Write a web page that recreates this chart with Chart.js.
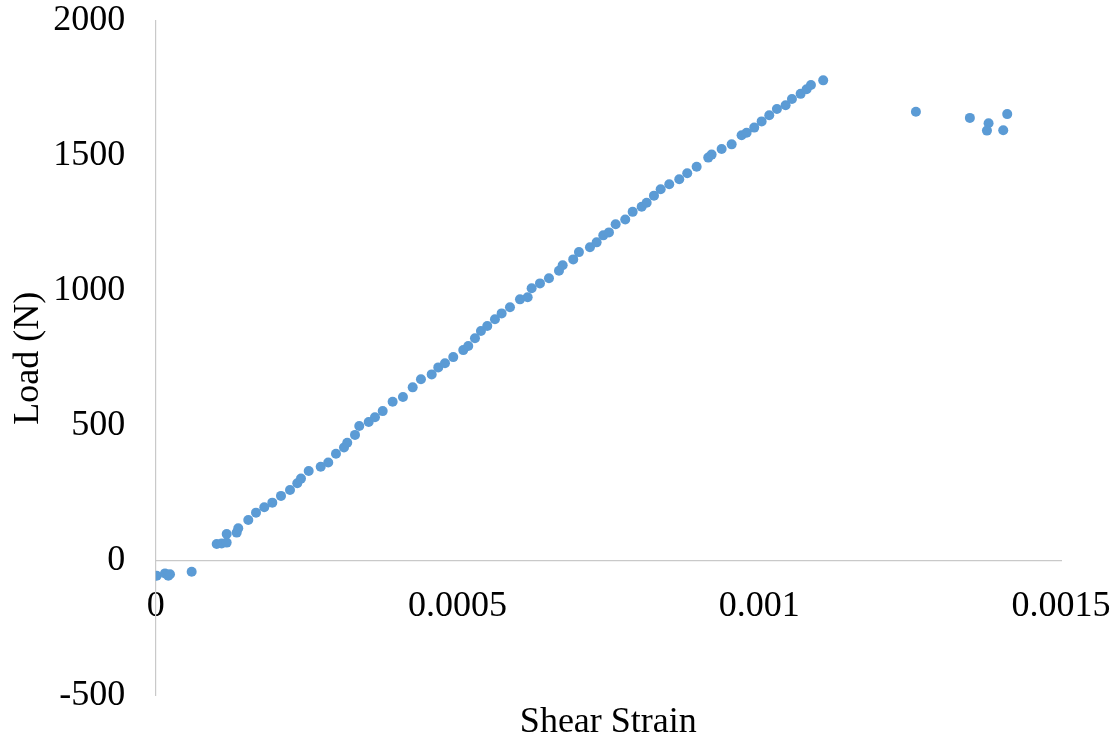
<!DOCTYPE html>
<html>
<head>
<meta charset="utf-8">
<script src="https://cdn.jsdelivr.net/npm/chart.js@4.4.1/dist/chart.umd.min.js"></script>
<style>
  html, body { margin: 0; padding: 0; background: #ffffff; }
  #wrap { width: 1118px; height: 740px; }
</style>
</head>
<body>
<div id="wrap"><canvas id="chart" width="1118" height="740"></canvas></div>
<script>
// Shear test: measured shear strain vs applied load
const strainValues = [
  0.0000017, 0.0000154, 0.0000209, 0.0000237, 0.0000596,
  0.0001011, 0.0001093, 0.0001176, 0.0001176, 0.0001342, 0.0001368, 0.0001534, 0.0001662, 0.0001799, 0.0001932,
  0.0002076, 0.0002225, 0.0002346, 0.0002407, 0.0002535, 0.0002734, 0.0002859, 0.0002987, 0.0003120, 0.0003174,
  0.0003302, 0.0003373, 0.0003529, 0.0003633, 0.0003761, 0.0003926, 0.0004097, 0.0004258, 0.0004395, 0.0004573,
  0.0004682, 0.0004793, 0.0004930, 0.0005096, 0.0005179, 0.0005290, 0.0005389, 0.0005494, 0.0005621, 0.0005732,
  0.0005870, 0.0006036, 0.0006163, 0.0006229, 0.0006367, 0.0006516, 0.0006682, 0.0006743, 0.0006918, 0.0007013,
  0.0007195, 0.0007306, 0.0007416, 0.0007510, 0.0007621, 0.0007780, 0.0007903, 0.0008052, 0.0008135, 0.0008256,
  0.0008367, 0.0008509, 0.0008675, 0.0008807, 0.0008963, 0.0009155, 0.0009211, 0.0009377, 0.0009543, 0.0009708,
  0.0009791, 0.0009917, 0.0010040, 0.0010166, 0.0010293, 0.0010437, 0.0010542, 0.0010686, 0.0010785, 0.0010857,
  0.0011060, 0.0012596, 0.0013490, 0.0013800, 0.0013773, 0.0014043, 0.0014109
];
const loadValues = [
  -56, -47, -56, -50, -41,
  62, 64, 67, 99, 104, 120, 151, 178, 198, 215,
  240, 262, 287, 304, 332, 348, 364, 396, 419, 437,
  466, 499, 514, 531, 554, 589, 606, 642, 672, 690,
  716, 731, 754, 780, 795, 824, 851, 869, 894, 916,
  939, 968, 976, 1009, 1027, 1046, 1074, 1094, 1116, 1143,
  1161, 1179, 1205, 1216, 1246, 1264, 1292, 1311, 1326, 1352,
  1376, 1394, 1413, 1435, 1459, 1493, 1504, 1525, 1542, 1576,
  1585, 1604, 1627, 1650, 1673, 1687, 1710, 1729, 1746, 1762,
  1779, 1663, 1640, 1620, 1593, 1594, 1654
];
const xTickLabels = ['0', '0.0005', '0.001', '0.0015'];
const yTickLabels = ['-500', '0', '500', '1000', '1500', '2000'];
const xTitle = 'Shear Strain';
const yTitle = 'Load (N)';

const points = strainValues.map((s, i) => ({ x: s, y: loadValues[i] }));

const serif = '"Liberation Serif", "Times New Roman", serif';
const textColor = '#000000';
const axisLineColor = '#c9c9c9';
const fontSize = 36;

new Chart(document.getElementById('chart'), {
  type: 'scatter',
  data: {
    datasets: [{
      data: points,
      backgroundColor: '#5b9bd5',
      borderWidth: 0,
      pointRadius: 5,
      pointHoverRadius: 5
    }]
  },
  options: {
    responsive: false,
    devicePixelRatio: 1,
    animation: false,
    layout: { padding: { top: 20.7, right: 57, bottom: 44.3, left: 0 } },
    plugins: { legend: { display: false }, tooltip: { enabled: false } },
    scales: {
      x: {
        type: 'linear',
        position: { y: 0 },
        min: 0,
        max: 0.0015,
        grid: { display: true, color: 'rgba(0,0,0,0)', drawTicks: false },
        border: { display: true, color: axisLineColor, width: 1.2 },
        ticks: {
          stepSize: 0.0005,
          padding: 24,
          maxRotation: 0,
          autoSkip: false,
          color: textColor,
          font: { family: serif, size: fontSize },
          callback: (v, i) => xTickLabels[i]
        },
        title: {
          display: true,
          text: xTitle,
          color: textColor,
          font: { family: serif, size: fontSize },
          padding: { top: 0, bottom: 0 }
        },
        afterFit: (scale) => {
          scale.height = 183;
          scale.paddingLeft = 0;
          scale.paddingRight = 0;
        }
      },
      y: {
        type: 'linear',
        position: 'left',
        min: -500,
        max: 2000,
        grid: { display: true, color: 'rgba(0,0,0,0)', drawTicks: false },
        border: { display: true, color: axisLineColor, width: 1.2 },
        ticks: {
          stepSize: 500,
          padding: 30.5,
          color: textColor,
          font: { family: serif, size: fontSize },
          callback: (v, i) => yTickLabels[i]
        },
        title: {
          display: true,
          text: yTitle,
          color: textColor,
          font: { family: serif, size: fontSize },
          padding: { top: 7, bottom: 0 }
        },
        afterFit: (scale) => {
          scale.width = 155.7;
          scale.paddingTop = 0;
          scale.paddingBottom = 0;
        }
      }
    }
  }
});
</script>
</body>
</html>
